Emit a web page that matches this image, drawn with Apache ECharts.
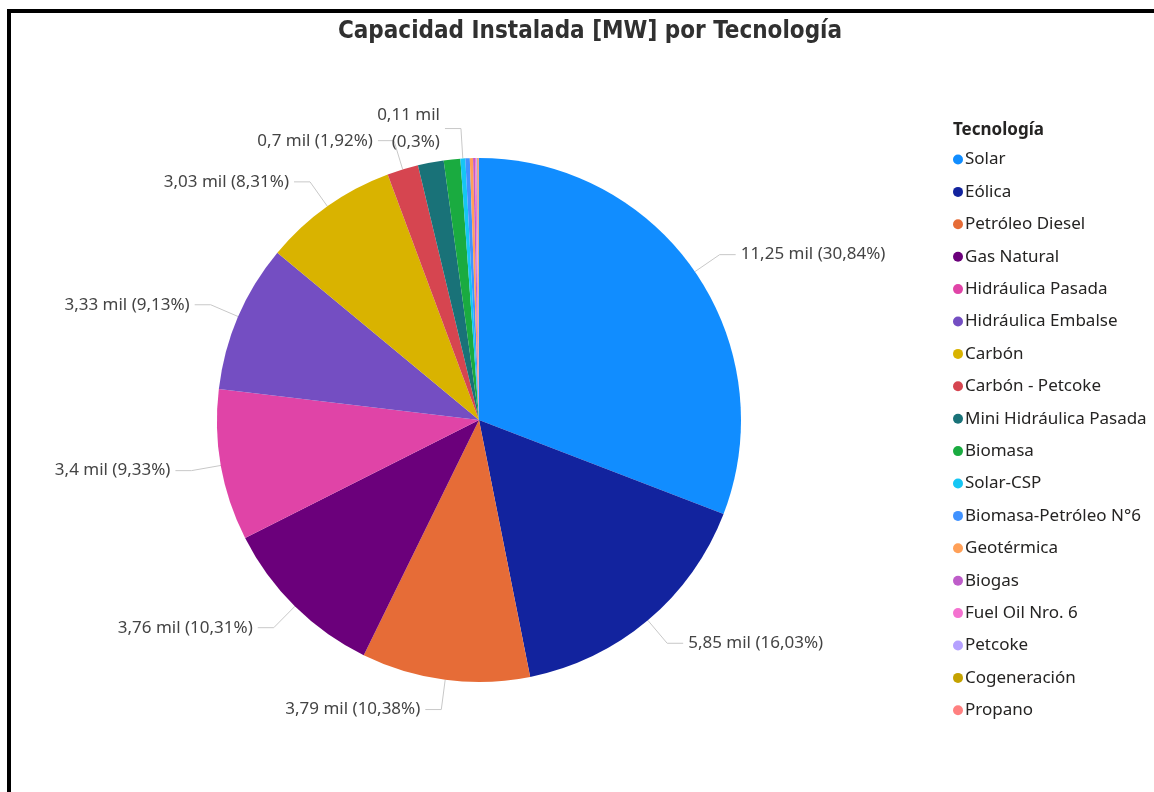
<!DOCTYPE html>
<html>
<head>
<meta charset="utf-8">
<title>Capacidad Instalada por Tecnología</title>
<script src="https://cdn.jsdelivr.net/npm/echarts@6/dist/echarts.min.js"></script>
<style>
  html, body { margin: 0; padding: 0; background: #fff; }
  #main { position: absolute; left: 0; top: 0; width: 1154px; height: 792px; }
  /* marco negro del visual */
  .frame { position: absolute; left: 7px; top: 9px; width: 1160px; height: 800px;
           border-left: 4px solid #000; border-top: 4px solid #000; pointer-events: none; }
</style>
</head>
<body>
<div id="main"></div>
<div class="frame"></div>
<script>
// tecnologias (orden de la leyenda)
var tecnologias = ['Solar', 'Eólica', 'Petróleo Diesel', 'Gas Natural', 'Hidráulica Pasada',
    'Hidráulica Embalse', 'Carbón', 'Carbón - Petcoke', 'Mini Hidráulica Pasada', 'Biomasa',
    'Solar-CSP', 'Biomasa-Petróleo N°6', 'Geotérmica', 'Biogas', 'Fuel Oil Nro. 6', 'Petcoke',
    'Cogeneración', 'Propano'];
// capacidad en MW
var capacidad = [11250, 5848, 3787, 3761, 3404, 3331, 3032, 701, 580, 372,
    110, 100, 72, 44, 34, 20, 18, 16];
var colores = ['#118DFF', '#12239E', '#E66C37', '#6B007B', '#E044A7', '#744EC2', '#D9B300',
    '#D64550', '#197278', '#1AAB40', '#15C6F4', '#4092FF', '#FFA058', '#BE5DC9', '#F472D0',
    '#B5A1FF', '#C4A200', '#FF8080'];
// solo estas llevan etiqueta
var conEtiqueta = ['Solar', 'Eólica', 'Petróleo Diesel', 'Gas Natural', 'Hidráulica Pasada',
    'Hidráulica Embalse', 'Carbón', 'Carbón - Petcoke', 'Solar-CSP'];

var fuente = '"Noto Sans", sans-serif';

function fmtMil(v) {
    return (Math.round(v / 10) / 100).toString().replace('.', ',') + ' mil';
}

var datos = tecnologias.map(function (n, i) {
    var show = conEtiqueta.indexOf(n) >= 0;
    return {
        name: n,
        value: capacidad[i],
        label: { show: show },
        labelLine: { show: show }
    };
});

var chart = echarts.init(document.getElementById('main'));
var option = {
    color: colores,
    animation: false,
    title: [{
        text: 'Capacidad Instalada [MW] por Tecnología',
        left: 585,
        textAlign: 'center',
        top: 15,
        textStyle: { fontFamily: '"DejaVu Sans Condensed", sans-serif', fontSize: 24,
            fontWeight: 'bold', color: '#303030' }
    }, {
        text: 'Tecnología',
        left: 948,
        top: 117,
        textStyle: { fontFamily: fuente, fontSize: 17, fontWeight: 'bold', color: '#252423' }
    }],
    legend: {
        orient: 'vertical',
        left: 948,
        top: 146,
        icon: 'circle',
        itemWidth: 10,
        itemHeight: 10,
        itemGap: 15.4,
        textStyle: { fontFamily: fuente, fontSize: 17, color: '#252423', padding: [0, 0, 0, -3] },
        data: tecnologias
    },
    series: [{
        type: 'pie',
        center: [479, 420],
        radius: 262,
        startAngle: 90,
        clockwise: true,
        avoidLabelOverlap: false,
        itemStyle: { borderWidth: 0 },
        label: {
            position: 'outside',
            fontFamily: fuente,
            fontSize: 17,
            lineHeight: 27,
            color: '#444',
            formatter: function (p) {
                var pct = String(p.percent).replace('.', ',') + '%';
                var sep = p.percent < 1 ? '\n' : ' ';
                return fmtMil(p.value) + sep + '(' + pct + ')';
            }
        },
        labelLine: {
            length: 30,
            length2: 16,
            lineStyle: { color: '#c8c8c8', width: 1 }
        },
        data: datos
    }]
};
chart.setOption(option);
</script>
</body>
</html>
